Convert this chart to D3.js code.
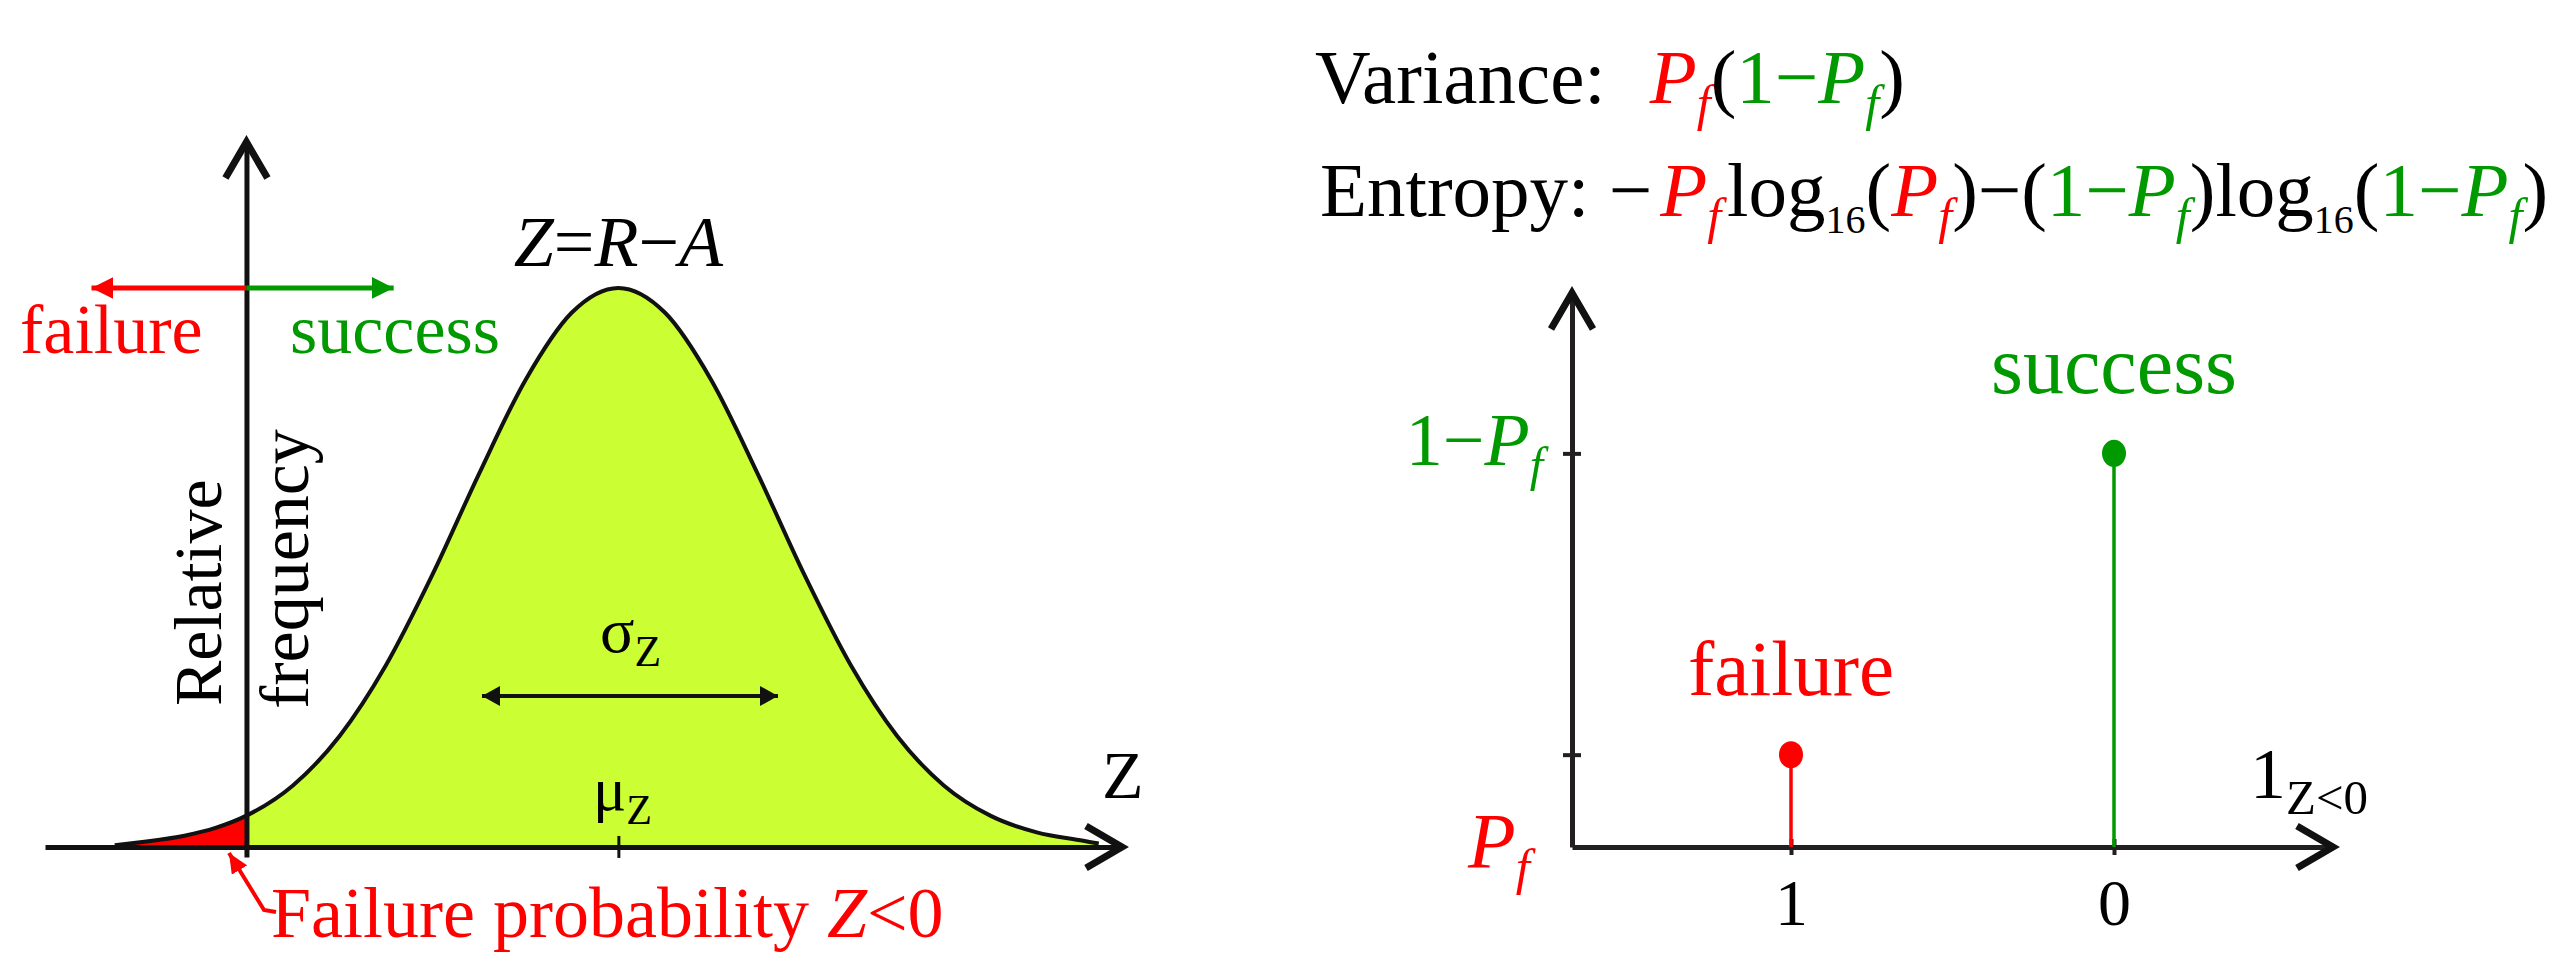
<!DOCTYPE html>
<html><head><meta charset="utf-8">
<script src="https://cdn.jsdelivr.net/npm/d3@7"></script>
<style>
html,body{margin:0;padding:0;background:#fff;}
svg text{white-space:pre;}
</style></head>
<body>
<svg id="chart" width="2575" height="975"></svg>
<script>
// ---------- data ----------
// Left panel: relative frequency of Z = R - A (peak = 1)
const curveZ    = [-0.85, -0.7, -0.4, -0.2, 0, 0.3, 0.6, 0.9, 1.2, 1.5, 1.8, 2.1, 2.4, 2.7, 3.0, 3.3, 3.6, 3.9, 4.2, 4.5, 4.8, 5.1, 5.4, 5.5];
const curveFreq = [0.003, 0.008, 0.020, 0.034, 0.056, 0.110, 0.198, 0.325, 0.487, 0.667, 0.835, 0.956, 1.0, 0.956, 0.835, 0.667, 0.487, 0.325, 0.198, 0.110, 0.056, 0.026, 0.011, 0.006];
const muZ = 2.4;
const sigmaArrow = [1.52, 3.43];
const failureArrowZ = -1.0, successArrowZ = 0.95, directionLevel = 1.0;
// Right panel: indicator 1_{Z<0}
const outcomes = ["1", "0"];
const outcomeNames = ["failure", "success"];
const outcomeProb = [0.19, 0.81];
const yTickValues = [0.19, 0.81];

const RED = "#ff0000", GREEN = "#009900", LIME = "#ccff33", INK = "#111111";
const SERIF = "'Liberation Serif', 'Times New Roman', serif";

const svg = d3.select("#chart");
const defs = svg.append("defs");

function marker(id, color, len, half) {
  defs.append("marker").attr("id", id).attr("markerUnits", "userSpaceOnUse")
    .attr("viewBox", `0 ${-half} ${len} ${2*half}`).attr("refX", len).attr("refY", 0)
    .attr("markerWidth", len).attr("markerHeight", 2*half).attr("orient", "auto-start-reverse")
    .append("path").attr("d", `M0,${-half}L${len},0L0,${half}Z`).attr("fill", color);
}
marker("hRed", RED, 22, 11);
marker("hGreen", GREEN, 22, 11);
marker("hBlack", INK, 18, 10);
marker("hPtr", RED, 20, 9);

function mathText(parent, x, y, segs, size, anchor, color) {
  const t = parent.append("text").attr("x", x).attr("y", y)
    .attr("font-family", SERIF).attr("font-size", size)
    .attr("text-anchor", anchor || "start").attr("fill", color || "#000");
  let sub = false;
  segs.forEach(s => {
    const ts = t.append("tspan").text(s.t);
    if (s.c) ts.attr("fill", s.c);
    if (s.i) ts.attr("font-style", "italic");
    const want = !!s.sub;
    let dy = 0;
    if (want && !sub) dy = 0.22 * size;
    if (!want && sub) dy = -0.22 * size;
    if (dy) ts.attr("dy", dy);
    if (want) ts.attr("font-size", size * (s.scale || 0.65));
    if (s.dx) ts.attr("dx", s.dx);
    sub = want;
  });
  return t;
}
function chevronRight(g, x, y) {
  g.append("path").attr("d", `M${x-36},${y-21}L${x},${y}L${x-36},${y+21}`)
    .attr("fill", "none").attr("stroke", INK).attr("stroke-width", 7);
}
function chevronUp(g, x, y) {
  g.append("path").attr("d", `M${x-21},${y+36}L${x},${y}L${x+21},${y+36}`)
    .attr("fill", "none").attr("stroke", INK).attr("stroke-width", 7);
}

// ---------- left panel ----------
const xL = d3.scaleLinear().domain([-1.3, 5.65]).range([45, 1122]);
const yL = d3.scaleLinear().domain([-0.018, 1.261]).range([857, 142]);
const pts = curveZ.map((z, i) => ({ z, f: curveFreq[i] }));

const L = svg.append("g");
defs.append("clipPath").attr("id", "failClip").append("rect")
  .attr("x", 0).attr("y", 0).attr("width", xL(0)).attr("height", 975);

const area = d3.area().x(d => xL(d.z)).y0(yL(0)).y1(d => yL(d.f)).curve(d3.curveMonotoneX);
const line = d3.line().x(d => xL(d.z)).y(d => yL(d.f)).curve(d3.curveMonotoneX);
L.append("path").datum(pts).attr("d", area).attr("fill", LIME);
L.append("path").datum(pts).attr("d", area).attr("fill", RED).attr("clip-path", "url(#failClip)");
L.append("path").datum(pts).attr("d", line).attr("fill", "none").attr("stroke", INK).attr("stroke-width", 4);

// x axis (Z)
const axL = L.append("g").attr("transform", `translate(0,${yL(0)})`)
  .call(d3.axisBottom(xL).tickValues([muZ]).tickFormat("").tickSizeOuter(0));
axL.select(".domain").attr("stroke", INK).attr("stroke-width", 5);
axL.selectAll(".tick line").attr("y1", -11).attr("y2", 11).attr("stroke", INK).attr("stroke-width", 3);
chevronRight(L, xL.range()[1], yL(0));

// y axis
const ayL = L.append("g").attr("transform", `translate(${xL(0)},0)`)
  .call(d3.axisLeft(yL).tickValues([]).tickSizeOuter(0));
ayL.select(".domain").attr("stroke", INK).attr("stroke-width", 5);
chevronUp(L, xL(0), yL.range()[1]);

// failure / success direction arrows
L.append("line").attr("x1", xL(0)).attr("x2", xL(failureArrowZ)).attr("y1", yL(directionLevel)).attr("y2", yL(directionLevel))
  .attr("stroke", RED).attr("stroke-width", 5).attr("marker-end", "url(#hRed)");
L.append("line").attr("x1", xL(0)).attr("x2", xL(successArrowZ)).attr("y1", yL(directionLevel)).attr("y2", yL(directionLevel))
  .attr("stroke", GREEN).attr("stroke-width", 5).attr("marker-end", "url(#hGreen)");
mathText(L, 20, 353, [{ t: "failure" }], 70, "start", RED);
mathText(L, 290, 353, [{ t: "success" }], 70, "start", GREEN);

// Z = R - A
mathText(L, xL(muZ), 266, [{ t: "Z", i: 1 }, { t: "=" }, { t: "R", i: 1 }, { t: "−" }, { t: "A", i: 1 }], 72, "middle");

// Relative frequency (rotated)
L.append("text").attr("transform", "translate(221,706) rotate(-90)")
  .attr("font-family", SERIF).attr("font-size", 68).text("Relative");
L.append("text").attr("transform", "translate(308,709) rotate(-90)")
  .attr("font-family", SERIF).attr("font-size", 70).text("frequency");

// sigma arrow
L.append("line").attr("x1", xL(sigmaArrow[0])).attr("x2", xL(sigmaArrow[1])).attr("y1", 696).attr("y2", 696)
  .attr("stroke", INK).attr("stroke-width", 4)
  .attr("marker-start", "url(#hBlack)").attr("marker-end", "url(#hBlack)");
mathText(L, 600, 652, [{ t: "σ" }, { t: "Z", sub: 1, scale: 0.68 }], 64, "start");
mathText(L, 593, 810, [{ t: "μ" }, { t: "Z", sub: 1, scale: 0.68 }], 62, "start");

// axis label Z
mathText(L, 1102, 798, [{ t: "Z" }], 68, "start");

// failure probability pointer
L.append("path").attr("d", "M276,912L264,910L229,853").attr("fill", "none")
  .attr("stroke", RED).attr("stroke-width", 4).attr("marker-end", "url(#hPtr)");
mathText(L, 271, 937, [{ t: "Failure probability " }, { t: "Z", i: 1 }, { t: "<0" }], 72, "start", RED);

// ---------- right panel ----------
const xR = d3.scalePoint().domain(outcomes).range([1572, 2333]).padding(0.678);
const yR = d3.scaleLinear().domain([0, 1.14]).range([847, 293]);
const R = svg.append("g");

const axR = R.append("g").attr("transform", `translate(0,${yR(0)})`)
  .call(d3.axisBottom(xR).tickSizeOuter(0));
axR.select(".domain").attr("stroke", "#231f20").attr("stroke-width", 5);
axR.selectAll(".tick line").attr("y1", -8).attr("y2", 8).attr("stroke", "#231f20").attr("stroke-width", 4);
axR.selectAll(".tick text").attr("y", 78).attr("dy", 0).attr("font-family", SERIF)
  .attr("font-size", 66).attr("fill", "#000");
chevronRight(R, xR.range()[1], yR(0));

const ayR = R.append("g").attr("transform", `translate(${xR.range()[0]},0)`)
  .call(d3.axisLeft(yR).tickValues(yTickValues).tickFormat("").tickSizeOuter(0));
ayR.select(".domain").attr("stroke", "#231f20").attr("stroke-width", 5);
ayR.selectAll(".tick line").attr("x1", -9).attr("x2", 9).attr("stroke", "#231f20").attr("stroke-width", 4);
chevronUp(R, xR.range()[0], yR.range()[1]);

// stems
const colors = [RED, GREEN];
outcomes.forEach((o, i) => {
  R.append("line").attr("x1", xR(o)).attr("x2", xR(o)).attr("y1", yR(0)).attr("y2", yR(outcomeProb[i]))
    .attr("stroke", colors[i]).attr("stroke-width", 3.5);
  R.append("ellipse").attr("cx", xR(o)).attr("cy", yR(outcomeProb[i])).attr("rx", 12).attr("ry", 13.5).attr("fill", colors[i]);
  mathText(R, xR(o), yR(outcomeProb[i]) - 60, [{ t: outcomeNames[i] }], i === 0 ? 79 : 82, "middle", colors[i]);
});

// y labels
mathText(R, 1543, 465, [{ t: "1−" }, { t: "P", i: 1 }, { t: "f", i: 1, sub: 1 }], 74, "end", GREEN);
mathText(R, 1468, 867, [{ t: "P", i: 1 }, { t: "f", i: 1, sub: 1 }], 78, "start", RED);
// x label
mathText(R, 2250, 798, [{ t: "1" }, { t: "Z<0", sub: 1, scale: 0.68 }], 72, "start");

// formulas
const FS = 77;
mathText(svg, 1315, 103, [
  { t: "Variance:" },
  { t: "P", c: RED, i: 1, dx: 44 }, { t: "f", c: RED, i: 1, sub: 1 },
  { t: "(" }, { t: "1−", c: GREEN }, { t: "P", c: GREEN, i: 1 }, { t: "f", c: GREEN, i: 1, sub: 1 }, { t: ")" }
], FS, "start");
mathText(svg, 1320, 216, [
  { t: "Entropy: −" },
  { t: "P", c: RED, i: 1, dx: 8 }, { t: "f", c: RED, i: 1, sub: 1 },
  { t: "log", dx: 6 }, { t: "16", sub: 1, scale: 0.52 }, { t: "(" },
  { t: "P", c: RED, i: 1 }, { t: "f", c: RED, i: 1, sub: 1 },
  { t: ")−(" }, { t: "1−", c: GREEN }, { t: "P", c: GREEN, i: 1 }, { t: "f", c: GREEN, i: 1, sub: 1 },
  { t: ")log" }, { t: "16", sub: 1, scale: 0.52 }, { t: "(" },
  { t: "1−", c: GREEN }, { t: "P", c: GREEN, i: 1 }, { t: "f", c: GREEN, i: 1, sub: 1 }, { t: ")" }
], FS, "start");
</script>
</body></html>
